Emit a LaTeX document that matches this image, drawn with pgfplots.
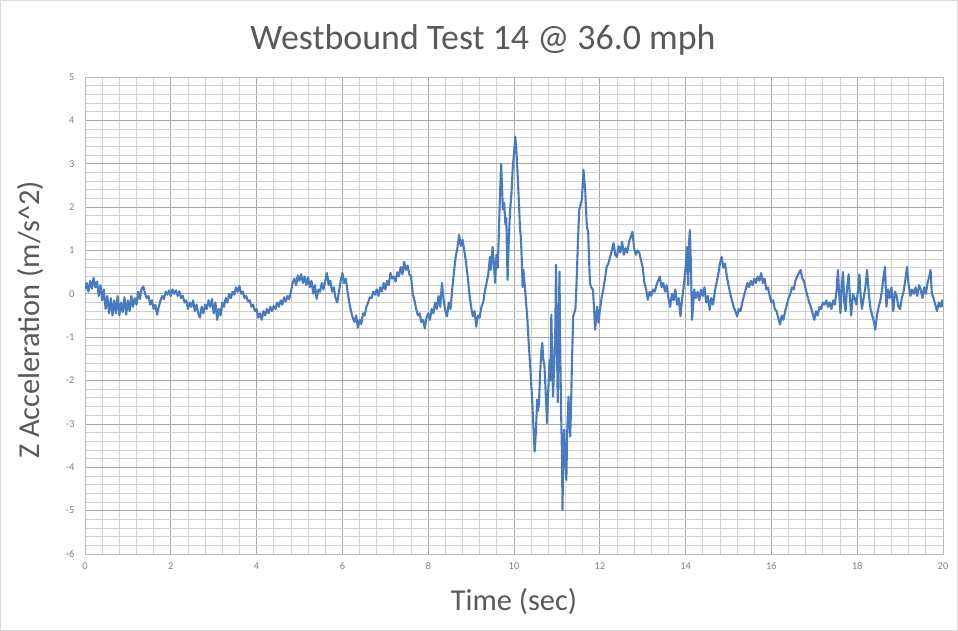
\documentclass[border=0pt]{standalone}
\usepackage{pgfplots}
\pgfplotsset{compat=1.18}
\usepackage{fontspec}
\setmainfont{Carlito}
\definecolor{lineblue}{RGB}{72,122,192}
\definecolor{txtgray}{RGB}{89,89,89}
\definecolor{tickgray}{RGB}{128,128,128}
\begin{document}
\begin{tikzpicture}[x=1bp,y=1bp]
\draw[gray!30, line width=1bp] (0.5,0.5) rectangle (957.5,630.5);
\node[font=\fontsize{36}{40}\selectfont, text=txtgray] at (483,591) {Westbound Test 14 @ 36.0 mph};
\node[font=\fontsize{30.5}{34}\selectfont, text=txtgray] at (514,30) {Time (sec)};
\node[font=\fontsize{30.5}{34}\selectfont, text=txtgray, rotate=90] at (30,311) {Z Acceleration (m/s\textasciicircum 2)};
\begin{axis}[at={(85bp,77bp)}, anchor=south west, scale only axis,
  width=858bp, height=477bp,
  xmin=0, xmax=20, ymin=-6, ymax=5,
  xtick distance=2, ytick distance=1,
  minor x tick num=4, minor y tick num=4,
  grid=both,
  major grid style={gray!68, line width=0.8bp},
  minor grid style={gray!36, line width=0.8bp},
  axis line style={gray!55, line width=0.8bp},
  major tick length=0pt, minor tick length=0pt,
  ticklabel style={font=\fontsize{10.5}{12}\selectfont, text=tickgray},
  xticklabel style={yshift=-5bp},
  yticklabel style={xshift=-7bp},
  /pgf/number format/assume math mode=true,
]
\addplot[lineblue, line width=2.1bp, line join=round] table {
0.00 0.10
0.04 0.25
0.08 0.05
0.12 0.30
0.16 0.12
0.20 0.37
0.24 0.15
0.28 0.28
0.32 -0.05
0.36 0.20
0.40 -0.15
0.44 0.10
0.48 -0.35
0.52 -0.05
0.56 -0.45
0.60 -0.10
0.64 -0.50
0.68 -0.15
0.72 -0.45
0.76 -0.05
0.80 -0.50
0.84 -0.20
0.88 -0.42
0.92 -0.08
0.96 -0.48
1.00 -0.15
1.04 -0.40
1.08 -0.05
1.12 -0.30
1.16 -0.10
1.20 -0.25
1.24 0.05
1.28 -0.12
1.32 0.12
1.36 0.17
1.40 0.00
1.44 -0.10
1.48 -0.05
1.52 -0.25
1.56 -0.15
1.60 -0.35
1.64 -0.25
1.68 -0.48
1.72 -0.30
1.76 -0.15
1.80 -0.05
1.84 -0.12
1.88 0.05
1.92 -0.02
1.96 0.08
2.00 -0.05
2.04 0.10
2.08 0.00
2.12 0.08
2.16 -0.05
2.20 0.06
2.24 -0.10
2.28 -0.05
2.32 -0.20
2.36 -0.15
2.40 -0.35
2.44 -0.20
2.48 -0.30
2.52 -0.15
2.56 -0.40
2.60 -0.25
2.64 -0.45
2.68 -0.55
2.72 -0.30
2.76 -0.45
2.80 -0.25
2.84 -0.35
2.88 -0.15
2.92 -0.30
2.96 -0.12
3.00 -0.45
3.04 -0.20
3.08 -0.60
3.12 -0.35
3.16 -0.50
3.20 -0.20
3.24 -0.30
3.28 -0.10
3.32 -0.20
3.36 0.00
3.40 -0.10
3.44 0.05
3.48 -0.02
3.52 0.15
3.56 0.05
3.60 0.18
3.64 0.00
3.68 0.05
3.72 -0.10
3.76 -0.05
3.80 -0.18
3.84 -0.15
3.88 -0.30
3.92 -0.25
3.96 -0.40
4.00 -0.35
4.04 -0.55
4.08 -0.45
4.12 -0.60
4.16 -0.40
4.20 -0.50
4.24 -0.35
4.28 -0.45
4.32 -0.30
4.36 -0.40
4.40 -0.28
4.44 -0.35
4.48 -0.20
4.52 -0.30
4.56 -0.15
4.60 -0.25
4.64 -0.08
4.68 -0.18
4.72 -0.05
4.76 -0.12
4.80 0.05
4.84 0.25
4.88 0.35
4.92 0.20
4.96 0.42
5.00 0.30
5.04 0.45
5.08 0.25
5.12 0.40
5.16 0.20
5.20 0.38
5.24 0.15
5.28 0.30
5.32 0.00
5.36 0.20
5.40 -0.12
5.44 0.10
5.48 0.05
5.52 0.25
5.56 0.10
5.60 0.30
5.64 0.48
5.68 0.20
5.72 0.30
5.76 0.05
5.80 0.15
5.84 -0.10
5.88 -0.20
5.92 0.05
5.96 0.30
6.00 0.48
6.04 0.25
6.08 0.35
6.12 0.05
6.16 -0.20
6.20 -0.40
6.24 -0.55
6.28 -0.65
6.32 -0.50
6.36 -0.78
6.40 -0.60
6.44 -0.70
6.48 -0.45
6.52 -0.50
6.56 -0.30
6.60 -0.20
6.64 -0.08
6.68 -0.10
6.72 0.05
6.76 -0.02
6.80 0.10
6.84 -0.05
6.88 0.15
6.92 0.05
6.96 0.25
7.00 0.10
7.04 0.30
7.08 0.20
7.12 0.48
7.16 0.35
7.20 0.40
7.24 0.28
7.28 0.50
7.32 0.40
7.36 0.62
7.40 0.45
7.44 0.74
7.48 0.55
7.52 0.65
7.56 0.45
7.60 0.40
7.64 0.00
7.68 -0.15
7.72 -0.35
7.76 -0.50
7.80 -0.45
7.84 -0.65
7.88 -0.60
7.92 -0.80
7.96 -0.55
8.00 -0.45
8.04 -0.60
8.08 -0.35
8.12 -0.45
8.16 -0.20
8.20 -0.35
8.24 -0.05
8.28 -0.30
8.32 0.25
8.36 -0.15
8.40 -0.40
8.44 -0.52
8.48 -0.20
8.52 -0.35
8.56 0.10
8.60 0.50
8.64 0.85
8.68 1.05
8.72 1.36
8.76 1.10
8.80 1.25
8.84 1.00
8.88 0.74
8.92 0.40
8.96 0.00
9.00 -0.30
9.04 -0.52
9.08 -0.40
9.12 -0.76
9.16 -0.50
9.20 -0.55
9.24 -0.30
9.28 -0.20
9.32 0.05
9.36 0.25
9.40 0.45
9.44 0.85
9.46 0.55
9.50 1.08
9.53 0.70
9.56 0.25
9.59 0.90
9.62 0.60
9.64 1.18
9.67 2.20
9.70 3.00
9.72 2.50
9.74 1.94
9.77 2.10
9.80 1.60
9.82 1.75
9.85 0.32
9.88 1.30
9.91 1.94
9.94 2.30
9.97 2.90
10.00 3.24
10.03 3.62
10.05 3.40
10.08 2.86
10.11 2.20
10.14 1.50
10.16 1.31
10.18 0.80
10.20 0.16
10.22 0.55
10.24 0.30
10.26 0.10
10.28 -0.20
10.31 -0.55
10.34 -1.10
10.38 -1.70
10.42 -2.40
10.45 -3.00
10.48 -3.64
10.51 -3.20
10.54 -2.44
10.56 -2.70
10.58 -2.55
10.61 -1.80
10.64 -1.30
10.66 -1.13
10.68 -1.50
10.71 -1.67
10.74 -2.30
10.77 -2.98
10.80 -2.20
10.83 -1.52
10.85 -2.00
10.87 -0.48
10.89 -1.50
10.91 -2.37
10.93 -1.80
10.96 -1.00
10.98 0.67
11.00 -1.20
11.02 -2.50
11.04 -1.00
11.06 0.51
11.08 -1.50
11.10 -2.83
11.12 -3.80
11.13 -4.98
11.15 -3.60
11.17 -3.13
11.19 -3.80
11.22 -4.29
11.24 -3.20
11.27 -2.37
11.29 -2.90
11.31 -3.29
11.33 -2.60
11.35 -1.60
11.38 -0.52
11.40 -0.45
11.43 -0.37
11.46 0.30
11.49 1.20
11.52 1.94
11.55 2.05
11.58 2.17
11.60 2.50
11.62 2.86
11.64 2.60
11.66 2.40
11.68 1.90
11.70 1.55
11.73 1.40
11.75 0.80
11.77 0.25
11.80 0.15
11.84 0.09
11.87 -0.40
11.89 -0.83
11.92 -0.50
11.94 -0.30
11.97 -0.67
12.00 -0.40
12.04 -0.10
12.08 0.09
12.12 0.35
12.16 0.62
12.20 0.70
12.24 0.85
12.28 1.00
12.32 1.17
12.36 0.90
12.40 0.85
12.44 1.10
12.48 0.95
12.52 1.20
12.56 0.90
12.60 1.05
12.64 0.95
12.68 1.20
12.72 1.31
12.76 1.43
12.80 1.05
12.84 0.90
12.88 1.00
12.92 0.95
12.96 0.78
13.00 0.60
13.04 0.25
13.08 0.10
13.12 -0.14
13.16 0.05
13.20 -0.05
13.24 0.10
13.28 0.05
13.32 0.20
13.36 0.30
13.40 0.40
13.44 0.15
13.48 0.25
13.52 0.05
13.56 0.20
13.60 -0.10
13.64 -0.30
13.68 0.00
13.72 -0.15
13.76 0.10
13.80 -0.25
13.84 -0.10
13.88 -0.52
13.92 -0.10
13.96 0.20
14.00 0.60
14.03 1.08
14.06 0.20
14.08 1.20
14.10 1.47
14.12 0.80
14.15 -0.60
14.18 -0.20
14.20 0.10
14.24 -0.10
14.28 0.05
14.32 -0.15
14.36 0.10
14.40 -0.05
14.44 0.15
14.48 -0.20
14.52 -0.05
14.56 -0.37
14.60 -0.10
14.64 -0.25
14.68 0.05
14.72 0.25
14.76 0.45
14.80 0.70
14.84 0.85
14.88 0.60
14.92 0.70
14.96 0.40
15.00 0.20
15.04 0.00
15.08 -0.15
15.12 -0.30
15.16 -0.40
15.20 -0.52
15.24 -0.35
15.28 -0.40
15.32 -0.20
15.36 -0.05
15.40 0.10
15.44 0.25
15.48 0.15
15.52 0.30
15.56 0.20
15.60 0.35
15.64 0.25
15.68 0.40
15.72 0.30
15.76 0.48
15.80 0.25
15.84 0.35
15.88 0.10
15.92 0.15
15.96 -0.05
16.00 -0.20
16.04 -0.15
16.08 -0.35
16.12 -0.40
16.16 -0.55
16.20 -0.71
16.24 -0.50
16.28 -0.60
16.32 -0.40
16.36 -0.25
16.40 -0.10
16.44 0.00
16.48 0.15
16.52 0.10
16.56 0.30
16.60 0.40
16.64 0.48
16.68 0.55
16.72 0.35
16.76 0.30
16.80 0.10
16.84 -0.05
16.88 -0.20
16.92 -0.30
16.96 -0.45
17.00 -0.60
17.04 -0.40
17.08 -0.50
17.12 -0.30
17.16 -0.35
17.20 -0.20
17.24 -0.25
17.28 -0.15
17.32 -0.30
17.36 -0.20
17.40 -0.35
17.44 -0.15
17.48 -0.25
17.52 0.10
17.55 0.55
17.58 0.00
17.61 -0.45
17.64 0.20
17.67 0.50
17.70 -0.20
17.73 -0.40
17.76 0.10
17.80 0.45
17.83 -0.10
17.86 -0.50
17.90 0.00
17.94 -0.10
17.98 -0.25
18.02 0.10
18.05 0.45
18.08 -0.05
18.11 -0.35
18.15 -0.10
18.19 0.15
18.23 0.55
18.27 0.00
18.31 -0.35
18.35 -0.50
18.39 -0.65
18.42 -0.83
18.46 -0.50
18.50 -0.30
18.54 -0.15
18.58 0.10
18.62 0.45
18.65 0.62
18.68 -0.30
18.72 0.10
18.76 -0.10
18.80 0.15
18.84 -0.40
18.88 0.05
18.92 -0.05
18.96 -0.30
19.00 -0.35
19.04 -0.10
19.08 0.05
19.12 0.30
19.16 0.62
19.20 0.20
19.24 -0.05
19.28 0.10
19.32 0.00
19.36 0.15
19.40 -0.05
19.44 0.20
19.48 0.10
19.52 -0.10
19.56 0.15
19.60 0.00
19.64 0.25
19.68 0.40
19.71 0.55
19.74 0.00
19.78 -0.10
19.82 -0.25
19.86 -0.40
19.90 -0.20
19.94 -0.30
19.98 -0.15
20.00 -0.30
};
\end{axis}
\end{tikzpicture}
\end{document}
